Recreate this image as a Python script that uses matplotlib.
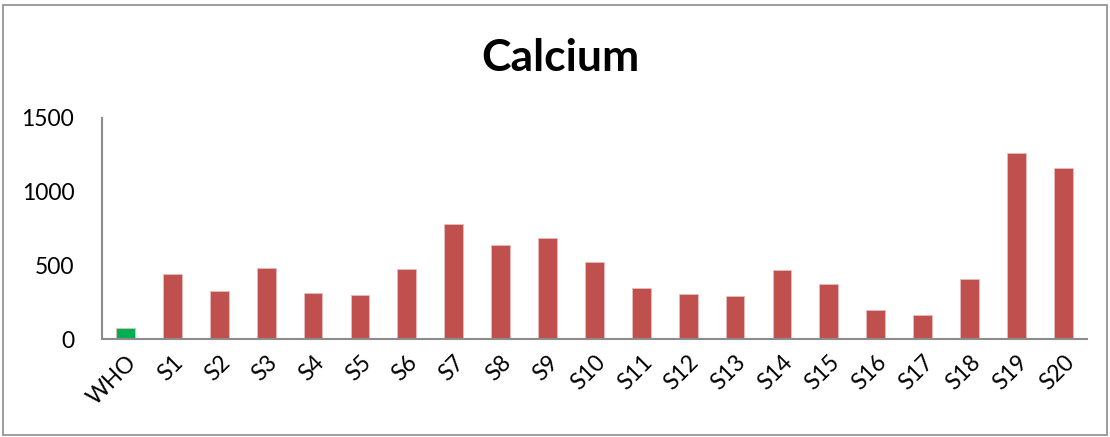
import matplotlib.pyplot as plt
from matplotlib.patches import Rectangle

plt.rcParams['font.family'] = ['Lato', 'DejaVu Sans']

samples = ["WHO"] + ["S" + str(i) for i in range(1, 21)]
calcium = [75, 441, 324, 484, 310, 296, 473, 779, 636, 686, 521,
           344, 303, 292, 466, 371, 197, 165, 405, 1265, 1159]
colors = ["#00B050"] + ["#C0504D"] * 20

fig = plt.figure(figsize=(11.1, 4.37), dpi=100)
ax = fig.add_axes([0.092, 0.224, 0.887, 0.506])

ax.bar(range(len(samples)), calcium, width=0.4, color=colors,
       edgecolor="#E8BDBC", linewidth=0.6)
ax.set_xlim(-0.5, len(samples) - 0.5)
ax.set_ylim(0, 1500)
ax.set_yticks([0, 500, 1000, 1500])
ax.set_xticks(range(len(samples)))
ax.set_xticklabels(samples, rotation=45, ha="right", rotation_mode="anchor")
ax.tick_params(axis="both", length=0, labelsize=16.5, colors="black")
ax.tick_params(axis="x", pad=9)
ax.tick_params(axis="y", pad=20)

for side in ["top", "right"]:
    ax.spines[side].set_visible(False)
for side in ["left", "bottom"]:
    ax.spines[side].set_color("#8C8C8C")
    ax.spines[side].set_linewidth(1.5)

fig.text(0.505, 0.868, "Calcium", ha="center", va="center",
         fontsize=32, fontweight="bold")

# thin grey frame around the chart
fig.patches.append(Rectangle((0.003, 0.005), 0.994, 0.983, transform=fig.transFigure,
                             fill=False, edgecolor="#8C8C8C", linewidth=1.2))

fig.savefig("out.png", dpi=100)
